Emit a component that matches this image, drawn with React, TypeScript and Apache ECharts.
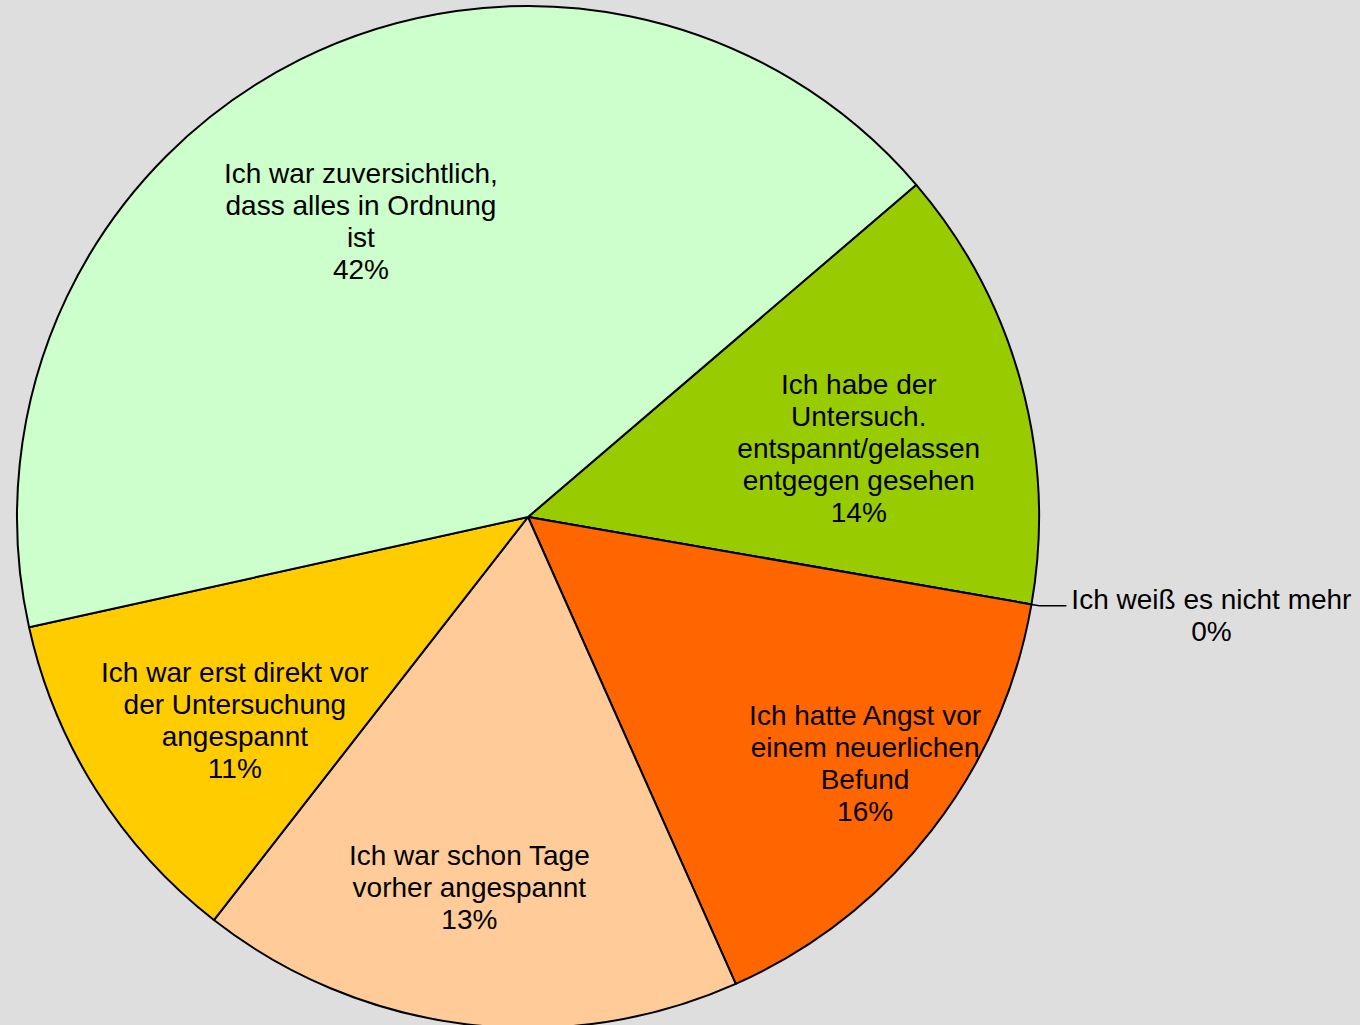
import React, { useEffect, useRef } from "react";
import * as echarts from "echarts";

// Slice names (as printed, with their line breaks), clockwise from the green slice
const categories = [
  "Ich habe der\nUntersuch.\nentspannt/gelassen\nentgegen gesehen",
  "Ich weiß es nicht mehr",
  "Ich hatte Angst vor\neinem neuerlichen\nBefund",
  "Ich war schon Tage\nvorher angespannt",
  "Ich war erst direkt vor\nder Untersuchung\nangespannt",
  "Ich war zuversichtlich,\ndass alles in Ordnung\nist",
];
// Slice sizes (percent)
const sliceValues = [14.0, 0, 15.6, 17.2, 11.0, 42.2];
// Percentages as printed on the labels
const shownPercents = ["14%", "0%", "16%", "13%", "11%", "42%"];
const sliceColors = ["#99CC00", "#FF99CC", "#FF6600", "#FFCC99", "#FFCC00", "#CCFFCC"];

const FONT = "'Liberation Sans', Arial, Helvetica, sans-serif";
const CENTER = [528, 517];
const RADIUS = 511;

// label rings: mid radius of the label and which slices use it
const labelRings = [
  { mid: 340, items: [0, 5] },
  { mid: 365, items: [3, 4] },
  { mid: 418, items: [2] },
];
// small label nudges (best-fit placement of the original)
const labelNudges: number[][] = [[0, 22], [0, 0], [5, -12], [-14, 5], [18, 7], [-14, 11]];

export default function App() {
  const ref = useRef<HTMLDivElement>(null);
  useEffect(() => {
    document.body.style.margin = "0";
    const chart = echarts.init(ref.current!, null, { renderer: "svg" });

    const mainData = sliceValues.map((v, i) => {
      const item: any = {
        value: v,
        name: categories[i],
        itemStyle: { color: sliceColors[i] },
      };
      if (v === 0) {
        item.label = {
          show: true,
          position: "outside",
          formatter: () => `{t|${categories[i]}}\n{t|${shownPercents[i]}}`,
          rich: {
            t: { align: "center", fontSize: 28, lineHeight: 32, fontFamily: FONT, color: "#000" },
          },
          padding: [20, 0, 0, 0],
          bleedMargin: 0,
          overflow: "none",
          distanceToLabelLine: 5,
        };
        item.labelLine = {
          show: true,
          length: 8,
          length2: 27,
          smooth: false,
          lineStyle: { color: "#000", width: 1.5 },
        };
      }
      return item;
    });

    const overlays = labelRings.map((ring) => ({
      type: "pie",
      center: CENTER,
      radius: [2 * ring.mid - RADIUS, RADIUS],
      startAngle: 40.55,
      clockwise: true,
      silent: true,
      z: 5,
      avoidLabelOverlap: false,
      itemStyle: { color: "rgba(0,0,0,0)", borderWidth: 0 },
      emphasis: { disabled: true },
      labelLine: { show: false },
      labelLayout: (p: any) => ({ dx: labelNudges[p.dataIndex][0], dy: labelNudges[p.dataIndex][1] }),
      label: {
        show: false,
        position: "inside",
        color: "#000",
        fontSize: 28,
        lineHeight: 32,
        fontFamily: FONT,
        align: "center",
        formatter: (p: any) => `${categories[p.dataIndex]}\n${shownPercents[p.dataIndex]}`,
      },
      data: sliceValues.map((v, i) => ({
        value: v,
        name: categories[i],
        label: { show: ring.items.includes(i) },
      })),
    }));

    chart.setOption({
      animation: false,
      backgroundColor: "#DEDEDE",
      series: [
        {
          type: "pie",
          center: CENTER,
          radius: RADIUS,
          startAngle: 40.55,
          clockwise: true,
          avoidLabelOverlap: false,
          itemStyle: { borderColor: "#000", borderWidth: 2 },
          emphasis: { disabled: true },
          label: { show: false },
          labelLine: { show: false },
          data: mainData,
        },
        ...overlays,
      ],
    });
    return () => chart.dispose();
  }, []);
  return (
    <div
      ref={ref}
      style={{ position: "absolute", left: 0, top: 0, width: 1360, height: 1025 }}
    />
  );
}
